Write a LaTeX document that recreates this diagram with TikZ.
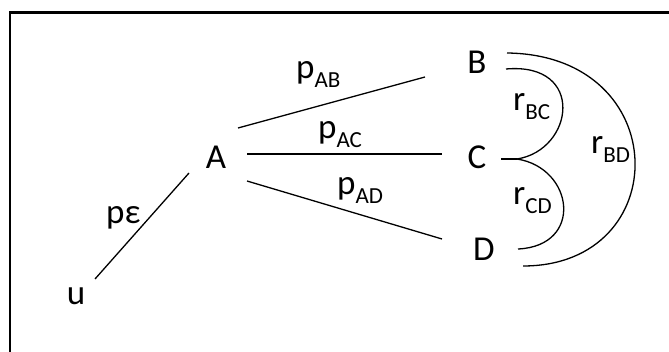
\documentclass[tikz,border=0pt]{standalone}
\usepackage{fontspec}
\setmainfont{Carlito}
\begin{document}
\begin{tikzpicture}[x=1pt,y=-1pt,
  lbl/.style={inner sep=0pt,font=\fontsize{35}{37}\selectfont},
  sub/.style={inner sep=0pt,anchor=base west,font=\fontsize{35}{37}\selectfont},
  edge/.style={line width=1.3pt},
  frame/.style={line width=2.5pt}]
\useasboundingbox (0,0) rectangle (669,352);
\clip (0,0) rectangle (669,352);
\draw[frame] (10,360) -- (10,12.5) -- (680,12.5);
\newcommand{\sbs}[1]{{\fontsize{23}{25}\selectfont\raisebox{-9pt}{#1}}}
% vertices
\node[lbl] (A) at (216,157) {A};
\node[lbl] (B) at (477,62) {B};
\node[lbl] (C) at (477,157) {C};
\node[lbl] (D) at (484,249) {D};
\node[lbl] (u) at (76,296) {u};
% connector end points
\coordinate (uA1) at (95,279);  \coordinate (uA2) at (189,173);
\coordinate (AB1) at (238,128); \coordinate (AB2) at (425,77);
\coordinate (AC1) at (247,154); \coordinate (AC2) at (442,154);
\coordinate (AD1) at (247,181); \coordinate (AD2) at (442,239);
\coordinate (Bi) at (506,69);  \coordinate (Bo) at (507,53);
\coordinate (Cs) at (501,159); \coordinate (Cj) at (517,159);
\coordinate (Di) at (518,249); \coordinate (Do) at (523,266);
\draw[edge] (uA1) -- (uA2);
\draw[edge] (AB1) -- (AB2);
\draw[edge] (AC1) -- (AC2);
\draw[edge] (AD1) -- (AD2);
\draw[edge] (Cs) -- (Cj);
\draw[edge] (Bi) .. controls (586,62) and (574,150) .. (Cj);
\draw[edge] (Cj) .. controls (574,168) and (584,246) .. (Di);
\draw[edge] (Bo) .. controls (675,55) and (675,266) .. (Do);
% labels
\node[sub] (pe) at (106,224) {pε};
\node[sub] (pAB) at (296,79) {p\sbs{AB}};
\node[sub] (pAC) at (318,139) {p\sbs{AC}};
\node[sub] (pAD) at (337,195) {p\sbs{AD}};
\node[sub] (rBC) at (513,111) {r\sbs{BC}};
\node[sub] (rCD) at (513,205) {r\sbs{CD}};
\node[sub] (rBD) at (591,154) {r\sbs{BD}};
\end{tikzpicture}
\end{document}
